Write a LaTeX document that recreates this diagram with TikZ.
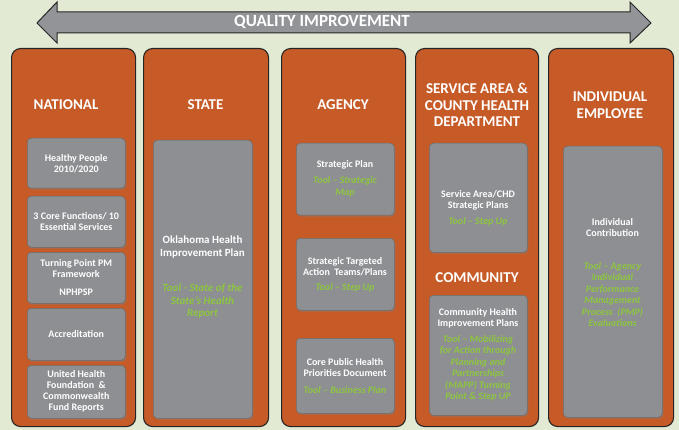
\documentclass[tikz,border=0pt]{standalone}
\usepackage{fontspec}
\setmainfont{Carlito}
\usetikzlibrary{positioning,shadows}

\definecolor{bggreen}{HTML}{E2EAD3}
\definecolor{lvlorange}{HTML}{C65B28}
\definecolor{boxgray}{HTML}{8E8F93}
\definecolor{arrowgray}{HTML}{939498}
\definecolor{toolgreen}{HTML}{8DC63F}

\begin{document}
\begin{tikzpicture}[x=1pt,y=-1pt,
  level/.style={draw=black!85, line width=1.1pt, fill=lvlorange, rounded corners=9pt, anchor=north west, inner sep=0pt},
  item/.style={draw=boxgray!75!black, line width=0.5pt, fill=boxgray, rounded corners=4pt, anchor=north west, inner sep=0pt,
    drop shadow={opacity=0.5, shadow xshift=1pt, shadow yshift=-1.4pt}},
  head/.style={text=white, font=\bfseries\fontsize{15}{16.5}\selectfont, align=center},
  itemtext/.style={text=white, font=\bfseries\fontsize{10}{11}\selectfont, align=center},
  tool/.style={text=toolgreen, font=\bfseries\itshape\fontsize{10}{11.5}\selectfont, align=center}]
%set diagram to 679 x 430
\fill[bggreen] (0,0) rectangle (679,430);
\useasboundingbox (0,0) rectangle (679,430);

%Double Arrow [quality improvement]
\draw[fill=arrowgray, draw=black!85, line width=1pt, line join=miter] (37,23) -- (57,2) -- (57,12) -- (630,12) -- (630,2) -- (651,23) -- (630,43) -- (630,33) -- (57,33) -- (57,43) -- cycle;
\node (qi) [text=white, font=\bfseries\fontsize{17}{20}\selectfont] at (322,22) {QUALITY IMPROVEMENT};

%Columns
\node (national) [level, minimum width=124pt, minimum height=378pt] at (11,48) {};
\node (state) [level, minimum width=125pt, minimum height=378pt] at (143,48) {};
\node (agency) [level, minimum width=124pt, minimum height=378pt] at (281,48) {};
\node (service) [level, minimum width=123pt, minimum height=378pt] at (415,48) {};
\node (individual) [level, minimum width=125pt, minimum height=378pt] at (548,48) {};

% Headings
\node (nationalHd) [head] at (66,105) {NATIONAL};
\node (stateHd) [head] at (205.5,105) {STATE};
\node (agencyHd) [head] at (343,105) {AGENCY};
\node (serviceHd) [head] at (477,105) {SERVICE AREA \&\\COUNTY HEALTH\\DEPARTMENT};
\node (communityHd) [head] at (477,278) {COMMUNITY};
\node (individualHd) [head] at (610,105) {INDIVIDUAL\\EMPLOYEE};

%National boxes
\node (nat1) [item, minimum width=98pt, minimum height=50pt] at (27,138) {};
\node (nat2) [item, minimum width=98pt, minimum height=51pt] at (27,196) {};
\node (nat3) [item, minimum width=98pt, minimum height=51pt] at (27,252) {};
\node (nat4) [item, minimum width=98pt, minimum height=52pt] at (27,308) {};
\node (nat5) [item, minimum width=98pt, minimum height=53pt] at (27,365) {};
\node (nat1Txt) [itemtext] at (nat1) {Healthy People\\2010/2020};
\node (nat2Txt) [itemtext] at (nat2) {3 Core Functions/ 10\\Essential Services};
\node (nat3Txt) [itemtext] at (nat3) {Turning Point PM\\Framework\\[7pt]NPHPSP};
\node (nat4Txt) [itemtext] at (nat4) {Accreditation};
\node (nat5Txt) [itemtext] at (nat5) {United Health\\Foundation~ \&\\Commonwealth\\Fund Reports};

%State box
\node (sta1) [item, minimum width=99pt, minimum height=278pt] at (153,140) {};
\node (sta1Txt) [itemtext, font=\bfseries\fontsize{11}{13}\selectfont] at (202.5,247.5) {Oklahoma Health\\Improvement Plan};
\node (sta1Tool) [tool, font=\bfseries\itshape\fontsize{11}{12.5}\selectfont] at (202.5,301.5) {Tool - State of the\\State’s Health\\Report};

%Agency boxes
\node (age1) [item, minimum width=98pt, minimum height=72pt] at (296,143) {};
\node (age2) [item, minimum width=98pt, minimum height=72pt] at (296,238) {};
\node (age3) [item, minimum width=98pt, minimum height=75pt] at (296,338) {};
\node (age1Txt) [itemtext] at (345,165) {Strategic Plan};
\node (age1Tool) [tool] at (345,187) {Tool -- Strategic\\Map};
\node (age2Txt) [itemtext] at (345,266.5) {Strategic Targeted\\Action~ Teams/Plans};
\node (age2Tool) [tool] at (345,288) {Tool -- Step Up};
\node (age3Txt) [itemtext] at (345,367.5) {Core Public Health\\Priorities Document};
\node (age3Tool) [tool] at (345,390) {Tool -- Business Plan};

%Service area and community boxes
\node (ser1) [item, minimum width=98pt, minimum height=109pt] at (429,143) {};
\node (ser2) [item, minimum width=98pt, minimum height=120pt] at (429,295) {};
\node (ser1Txt) [itemtext] at (478,200.5) {Service Area/CHD\\Strategic Plans};
\node (ser1Tool) [tool] at (478,222) {Tool -- Step Up};
\node (ser2Txt) [itemtext] at (478,318.5) {Community Health\\Improvement Plans};
\node (ser2Tool) [tool] at (478,368.5) {Tool -- Mobilizing\\for Action through\\Planning and\\Partnerships\\(MAPP) Turning\\Point \& Step UP};

%Individual box
\node (ind1) [item, minimum width=99pt, minimum height=271pt] at (563,146) {};
\node (ind1Txt) [itemtext] at (612.5,228) {Individual\\Contribution};
\node (ind1Tool) [tool] at (612.5,294.5) {Tool -- Agency\\Individual\\Performance\\Management\\Process~ (PMP)\\Evaluations};
\end{tikzpicture}
\end{document}
